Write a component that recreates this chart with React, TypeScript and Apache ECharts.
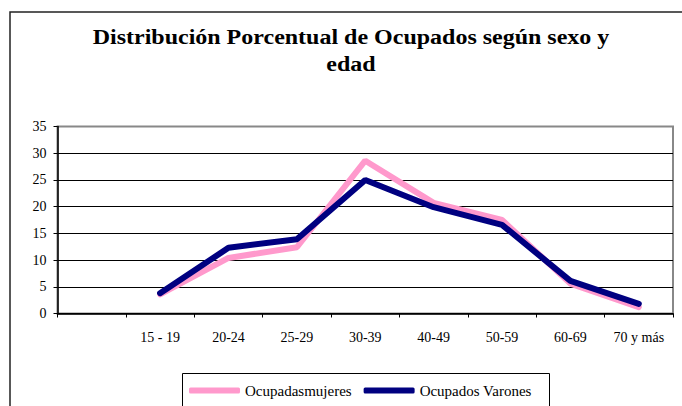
import React, { useEffect, useRef } from "react";
import * as echarts from "echarts";

const titleLines = ["Distribución Porcentual de Ocupados según sexo y", "edad"];
const categories = ["", "15 - 19", "20-24", "25-29", "30-39", "40-49", "50-59", "60-69", "70 y más"];
const mujeres = [null, 3.6, 10.4, 12.4, 28.6, 20.7, 17.5, 5.6, 1.2];
const varones = [null, 3.8, 12.3, 13.9, 25.0, 19.9, 16.6, 6.1, 1.8];
const seriesNames = ["Ocupadasmujeres", "Ocupados Varones"];
const yTicks = { min: 0, max: 35, interval: 5 };

const FONT = "Liberation Serif";

export default function App() {
  const ref = useRef<HTMLDivElement>(null);
  useEffect(() => {
    if (!ref.current) return;
    const chart = echarts.init(ref.current, undefined, { renderer: "svg" });
    chart.setOption({
      animation: false,
      backgroundColor: "#fff",
      graphic: [
        {
          type: "rect",
          shape: { x: 10, y: 12, width: 700, height: 420 },
          style: { fill: "none", stroke: "#222", lineWidth: 1.5 },
          silent: true,
          z: -1,
        },
        {
          type: "rect",
          shape: { x: 182.5, y: 373.5, width: 367, height: 40 },
          style: { fill: "#fff", stroke: "#000", lineWidth: 1 },
          silent: true,
          z: 0,
        },
        ...titleLines.map((t, i) => ({
          type: "text",
          x: 351,
          y: 37 + i * 27,
          scaleX: 1.2,
          scaleY: 1,
          silent: true,
          style: {
            text: t,
            x: 0,
            y: 0,
            textAlign: "center",
            textVerticalAlign: "middle",
            fontFamily: FONT,
            fontWeight: "bold",
            fontSize: 20,
            fill: "#000",
          },
        })),
      ],
      legend: {
        left: 184,
        top: 378,
        z: 5,
        itemWidth: 51,
        itemHeight: 6,
        itemGap: 12,
        icon: "roundRect",
        textStyle: { fontFamily: FONT, fontSize: 15, color: "#000" },
        data: seriesNames,
      },
      grid: {
        left: 57.5,
        right: 9,
        top: 126.5,
        bottom: 92.5,
        show: true,
        borderColor: "#888",
        borderWidth: 2,
        backgroundColor: "transparent",
      },
      xAxis: {
        type: "category",
        data: categories,
        boundaryGap: true,
        axisLine: { show: true, lineStyle: { color: "#000", width: 1.5 } },
        axisTick: { show: true, length: 4, lineStyle: { color: "#000" } },
        axisLabel: {
          interval: 0,
          margin: 17,
          fontFamily: FONT,
          fontSize: 14,
          color: "#000",
        },
        splitLine: { show: false },
      },
      yAxis: {
        type: "value",
        min: yTicks.min,
        max: yTicks.max,
        interval: yTicks.interval,
        axisLine: { show: true, lineStyle: { color: "#000", width: 1.5 } },
        axisTick: { show: true, length: 4, lineStyle: { color: "#000" } },
        axisLabel: { margin: 11, fontFamily: FONT, fontSize: 14, color: "#000" },
        splitLine: {
          show: true,
          lineStyle: {
            color: ["#000", "#000", "#000", "#000", "#000", "#000", "#000", "#888"],
            width: 1,
          },
        },
      },
      series: [
        {
          name: seriesNames[0],
          type: "line",
          data: mujeres,
          symbol: "none",
          connectNulls: false,
          lineStyle: { color: "#FF99CC", width: 6, cap: "round" },
          itemStyle: { color: "#FF99CC" },
          z: 2,
        },
        {
          name: seriesNames[1],
          type: "line",
          data: varones,
          symbol: "none",
          connectNulls: false,
          lineStyle: { color: "#000080", width: 6, cap: "round" },
          itemStyle: { color: "#000080" },
          z: 3,
        },
      ],
    });
    return () => chart.dispose();
  }, []);
  return (
    <div
      ref={ref}
      style={{ position: "fixed", left: 0, top: 0, width: 682, height: 406 }}
    />
  );
}
